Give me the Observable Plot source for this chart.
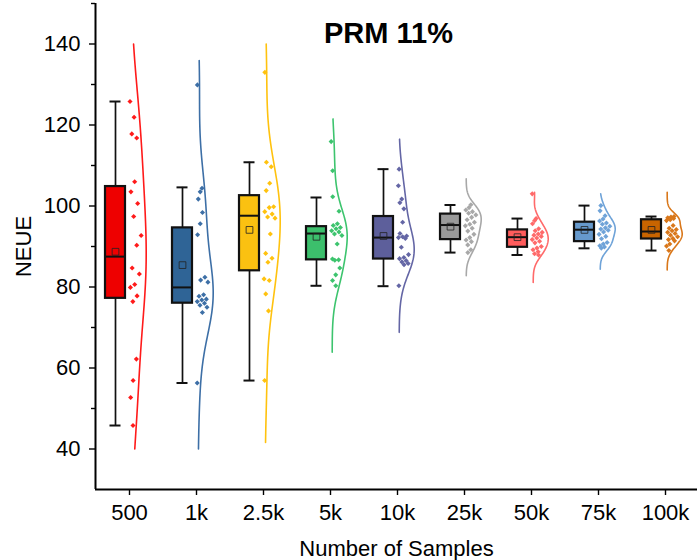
<!DOCTYPE html>
<html><head><meta charset="utf-8">
<script src="https://cdn.jsdelivr.net/npm/d3@7"></script>
<script src="https://cdn.jsdelivr.net/npm/@observablehq/plot@0.6"></script>
<style>body{margin:0;background:#fff;font-family:"Liberation Sans",Arial,sans-serif}</style>
</head><body><div id="chart"></div>
<script>
// ---- data ----
const categories = ["500","1k","2.5k","5k","10k","25k","50k","75k","100k"];
const s500  = [125.8,121.9,117.8,116.8,106.0,103.5,100.6,97.4,92.7,90.3,84.7,83.2,80.6,79.9,77.8,76.4,62.2,56.9,52.7,45.8];
const s1k   = [129.9,104.4,103.5,101.7,98.4,95.6,92.9,82.4,81.7,81.2,78.1,77.7,77.0,76.8,76.4,76.0,75.5,75.0,73.7,56.3];
const s2_5k = [133.0,110.8,109.7,105.6,103.8,99.8,99.6,98.6,98.0,97.3,97.0,93.1,88.3,87.1,86.1,82.0,81.6,78.3,74.1,56.9];
const s5k   = [115.9,108.7,102.3,98.7,95.6,95.2,94.7,94.4,93.9,93.6,93.1,92.7,90.6,86.9,86.7,86.6,84.7,83.0,81.6,80.3];
const s10k  = [109.1,105.0,101.7,100.8,99.3,96.0,93.2,92.6,92.4,92.2,92.0,89.8,88.0,87.3,87.0,86.5,86.2,85.8,85.5,80.3];
const s25k  = [100.3,99.6,99.0,98.6,98.2,97.8,97.2,96.6,96.0,95.5,95.1,94.5,93.8,93.0,92.2,91.6,91.2,90.4,89.2,88.5];
const s50k  = [103.0,96.9,96.4,95.6,94.4,93.9,93.5,93.1,92.8,92.5,92.1,91.7,91.3,90.9,90.0,89.6,89.2,88.7,88.2,87.9];
const s75k  = [100.1,98.8,97.6,96.8,96.3,95.8,95.5,95.0,94.6,94.3,94.0,93.6,93.0,92.5,91.9,91.0,90.6,90.2,89.9,89.6];
const s100k = [97.4,97.3,97.1,96.9,96.6,96.4,95.2,94.5,94.2,93.9,93.5,93.2,92.8,92.4,92.0,91.7,91.4,90.6,90.1,89.0];
const samples = [s500, s1k, s2_5k, s5k, s10k, s25k, s50k, s75k, s100k];

const q3s       = [104.8, 94.6, 102.55, 94.9, 97.4, 98.0, 94.1, 96.0, 96.6];
const medians   = [87.5, 79.9, 97.6, 93.2, 92.2, 95.3, 92.3, 94.15, 93.7];
const q1s       = [77.2, 76.0, 84.0, 86.7, 86.9, 91.7, 89.8, 91.2, 91.85];
const whiskerHi = [125.8, 104.6, 110.8, 102.1, 109.1, 100.25, 96.9, 100.1, 97.4];
const whiskerLo = [45.8, 56.3, 56.9, 80.3, 80.2, 88.5, 87.9, 89.55, 89.0];
const means     = [88.7, 85.4, 94.1, 92.4, 92.6, 94.9, 92.3, 94.1, 94.1];
const curveHi   = [140, 135.9, 140, 121.5, 116.5, 106.7, 103.4, 103.0, 103.4];
const curveLo   = [40, 40, 41.6, 63.9, 68.8, 82.8, 81.1, 84.4, 84.2];
const yTicks = [40, 60, 80, 100, 120, 140];
const yMinorTicks = [50, 70, 90, 110, 130, 150];

// ---- styles ----
const boxColors   = ["#ee0000","#2f6496","#fbc111","#3cbf6c","#5d5f9b","#9a9a9a","#ff5c5c","#6699cc","#c86400"];
const curveColors = ["#ff1a1a","#3d6fa6","#ffc20e","#3dc46e","#6466a5","#a8a8a8","#ff6a6a","#6fa3d8","#d9771a"];

// ---- layout (px per category step = 67) ----
const PX = 67;
const boxC = -14 / PX, boxHalf = 10 / PX, capHalf = 5.5 / PX, base = 1.7 / PX, curveW = 15 / PX;
const xDomain = [(95 - 129) / PX, (697 - 129) / PX];

function bandwidth(vals) { return 1.06 * d3.deviation(vals) * Math.pow(vals.length, -0.2); }
function dens(vals, h, v) { let s = 0; for (const x of vals) { const z = (v - x) / h; s += Math.exp(-0.5 * z * z); } return s; }

const curveRows = [], pointRows = [], boxRows = [];
samples.forEach((vals, i) => {
  const h = bandwidth(vals), N = 160;
  const grid = d3.range(N + 1).map(k => curveLo[i] + (curveHi[i] - curveLo[i]) * k / N);
  const ds = grid.map(v => dens(vals, h, v));
  const m = d3.max(ds);
  grid.forEach((v, k) => curveRows.push({i, y: v, x: i + base + (ds[k] / m) * curveW, color: curveColors[i]}));
  vals.forEach((v, k) => {
    const jit = ((k * 0.618034 + i * 0.37) % 1);
    const dn = dens(vals, h, v) / m;
    pointRows.push({i, y: v, x: i + base + (-1.2 + jit * dn * 12) / PX, color: curveColors[i]});
  });
  boxRows.push({i, c: i + boxC, q1: q1s[i], med: medians[i], q3: q3s[i], lo: whiskerLo[i], hi: whiskerHi[i], mean: means[i], color: boxColors[i]});
});

const chart = Plot.plot({
  width: 697, height: 560,
  marginLeft: 95, marginRight: 0, marginTop: 3, marginBottom: 71,
  style: {fontFamily: "'Liberation Sans', Arial, sans-serif", color: "#000", background: "#fff"},
  x: {domain: xDomain},
  y: {domain: [30, 150]},
  color: {type: "identity"},
  marks: [
    Plot.axisY({ticks: yMinorTicks, tickSize: 4, tickFormat: () => "", label: null, strokeWidth: 1.4}),
    Plot.axisY({ticks: yTicks, tickSize: 6, tickPadding: 9, fontSize: 22, strokeWidth: 1.4,
      label: "NEUE", labelAnchor: "center", labelOffset: 80, labelArrow: "none"}),
    Plot.axisX({ticks: d3.range(categories.length), tickFormat: i => categories[i], tickSize: 6, tickPadding: 9,
      fontSize: 22, strokeWidth: 1.4, label: "Number of Samples", labelAnchor: "center", labelOffset: 66, labelArrow: "none"}),
    Plot.line(curveRows, {x: "x", y: "y", z: "i", stroke: "color", strokeWidth: 1.6}),
    Plot.ruleX(boxRows, {x: "c", y1: "q3", y2: "hi", stroke: "#111", strokeWidth: 1.7}),
    Plot.ruleX(boxRows, {x: "c", y1: "lo", y2: "q1", stroke: "#111", strokeWidth: 1.7}),
    Plot.ruleY(boxRows, {y: "hi", x1: d => d.c - capHalf, x2: d => d.c + capHalf, stroke: "#111", strokeWidth: 2}),
    Plot.ruleY(boxRows, {y: "lo", x1: d => d.c - capHalf, x2: d => d.c + capHalf, stroke: "#111", strokeWidth: 2}),
    Plot.rect(boxRows, {x1: d => d.c - boxHalf, x2: d => d.c + boxHalf, y1: "q1", y2: "q3", fill: "color", stroke: "#111", strokeWidth: 2.2}),
    Plot.ruleY(boxRows, {y: "med", x1: d => d.c - boxHalf, x2: d => d.c + boxHalf, stroke: "#111", strokeWidth: 2}),
    Plot.dot(boxRows, {x: "c", y: "mean", symbol: "square", r: 3.8, stroke: "#222", strokeWidth: 1, fill: "none", strokeOpacity: 0.8}),
    Plot.dot(pointRows, {x: "x", y: "y", symbol: "diamond2", r: 2.3, fill: "color", stroke: "none"}),
    Plot.ruleX([xDomain[0]], {stroke: "#000", strokeWidth: 2}),
    Plot.ruleY([30], {stroke: "#000", strokeWidth: 2}),
    Plot.text(["PRM 11%"], {frameAnchor: "top", lineAnchor: "middle", dy: 30, dx: -8, fontSize: 29, fontWeight: "bold", fill: "#000"})
  ]
});
document.getElementById("chart").appendChild(chart);
</script>
</body></html>
